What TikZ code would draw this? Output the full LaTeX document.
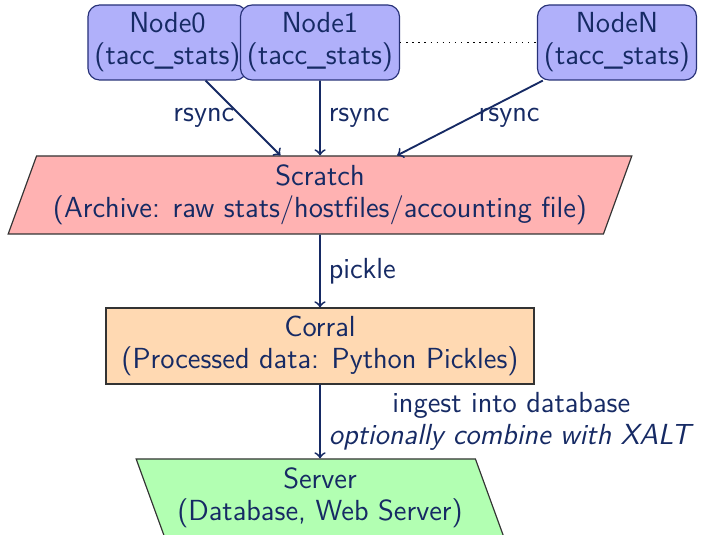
\documentclass[tikz,border=0pt]{standalone}
\usetikzlibrary{shapes.geometric}
\definecolor{navy}{RGB}{22,42,100}
\definecolor{nodeblue}{RGB}{176,176,250}
\definecolor{nodeedge}{RGB}{40,50,120}
\begin{document}
\begin{tikzpicture}[x=0.015cm, y=-0.015cm, font=\sffamily\fontsize{12.4}{13.6}\selectfont, text=navy,
  hostbox/.style={draw=nodeedge, fill=nodeblue, rounded corners=5pt, align=center, minimum width=2.385cm, minimum height=1.125cm, inner sep=1pt, line width=0.5pt},
  storebox/.style={draw=black!80, align=center, line width=0.5pt},
  flow/.style={->, draw=navy, line width=0.8pt}]
\useasboundingbox (0,0) rectangle (706,535);
\node[hostbox] (node0) at (167.5,42.5){Node0\\(tacc\_stats)};
\node[hostbox] (node1) at (320,42.5){Node1\\(tacc\_stats)};
\node[hostbox] (nodeN) at (617,42.5){NodeN\\(tacc\_stats)};
\draw[dotted, line width=0.6pt](node1) -- (nodeN);
\node[storebox, trapezium, trapezium left angle=70, trapezium right angle=110, trapezium stretches=true, fill=red!30, minimum width=9.39cm, minimum height=1.17cm] (scratch) at (320,195){Scratch\\(Archive: raw stats/hostfiles/accounting file)};
\node[storebox, rectangle, fill=orange!30, minimum width=6.42cm, minimum height=1.14cm] (corral) at (320,346){Corral\\(Processed data: Python Pickles)};
\node[storebox, trapezium, trapezium left angle=110, trapezium right angle=70, trapezium stretches=true, fill=green!30, minimum width=5.52cm, minimum height=1.17cm] (server) at (320,498){Server\\(Database, Web Server)};
\draw[flow](node0) -- node[left]{rsync} (scratch);
\draw[flow](node1) -- node[right]{rsync} (scratch);
\draw[flow](nodeN) -- node[right]{rsync} (scratch);
\draw[flow](scratch.south) -- node[right]{pickle} (corral.north);
\draw[flow](corral.south) -- node[right, align=center]{ingest into database\\\textit{optionally combine with XALT}} (server.north);
\end{tikzpicture}
\end{document}
